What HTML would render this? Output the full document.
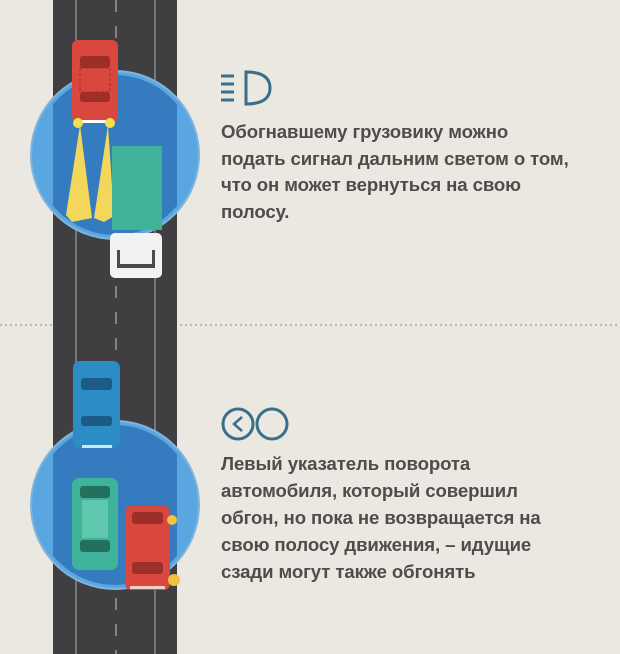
<!DOCTYPE html>
<html><head><meta charset="utf-8"><style>
body{margin:0;width:620px;height:654px;background:#ebe8e1;overflow:hidden;position:relative;font-family:"Liberation Sans",sans-serif}
.t{position:absolute;left:221px;color:#4d4d4d;font-size:18.6px;font-weight:bold;line-height:26.5px;white-space:nowrap;letter-spacing:-0.1px}
</style></head><body>
<svg width="620" height="654" style="position:absolute;left:0;top:0">
<line x1="0" y1="325" x2="620" y2="325" stroke="#9a9a9a" stroke-width="1.2" stroke-dasharray="2 3"/>
<rect x="53" y="0" width="124" height="654" fill="#3f3f41"/>
<line x1="76" y1="0" x2="76" y2="654" stroke="#8a8a8c" stroke-width="1.5"/>
<line x1="155" y1="0" x2="155" y2="654" stroke="#8a8a8c" stroke-width="1.5"/>
<line x1="116" y1="0" x2="116" y2="654" stroke="#9a9a9c" stroke-width="1.5" stroke-dasharray="12 14"/>
<clipPath id="c1"><circle cx="115" cy="155" r="80"/></clipPath>
<clipPath id="c2"><circle cx="115" cy="505" r="80"/></clipPath>
<circle cx="115" cy="155" r="84" fill="#5aa6e0" stroke="#7fb5dc" stroke-width="2"/>
<rect x="53" y="71" width="124" height="168" fill="#2f73b8" opacity="0.85" clip-path="url(#c1)"/>
<polygon points="80,125 66,215 72,222 92,218" fill="#f3d75a"/>
<polygon points="108,125 94,218 104,222 114,216" fill="#f3d75a"/>
<rect x="72" y="40" width="46" height="82" rx="6" fill="#d9473f"/>
<rect x="80" y="56" width="30" height="12" rx="3" fill="#9e2e28"/>
<rect x="80" y="92" width="30" height="10" rx="3" fill="#9e2e28"/>
<rect x="80" y="68" width="30" height="24" fill="#d9473f" stroke="#9e2e28" stroke-dasharray="3 2"/>
<rect x="80" y="120" width="30" height="3" fill="#fff"/>
<circle cx="78" cy="123" r="5" fill="#f4e04c"/><circle cx="110" cy="123" r="5" fill="#f4e04c"/>
<rect x="112" y="146" width="50" height="84" fill="#3fb39a"/>
<rect x="110" y="233" width="52" height="45" rx="5" fill="#f2f2f2"/>
<rect x="117" y="250" width="38" height="18" fill="#4a4a4a"/>
<rect x="120" y="248" width="32" height="16" fill="#f2f2f2"/>
<circle cx="115" cy="505" r="84" fill="#5aa6e0" stroke="#7fb5dc" stroke-width="2"/>
<rect x="53" y="421" width="124" height="168" fill="#2f73b8" opacity="0.85" clip-path="url(#c2)"/>
<rect x="73" y="361" width="47" height="87" rx="7" fill="#2c8dc4"/>
<rect x="81" y="378" width="31" height="12" rx="3" fill="#1b5b85"/>
<rect x="81" y="416" width="31" height="10" rx="3" fill="#1b5b85"/>
<rect x="82" y="445" width="30" height="3" fill="#cfe6f5"/>
<rect x="72" y="478" width="46" height="92" rx="7" fill="#3fb39a"/>
<rect x="80" y="486" width="30" height="12" rx="3" fill="#24705f"/>
<rect x="80" y="540" width="30" height="12" rx="3" fill="#24705f"/>
<rect x="82" y="500" width="26" height="38" fill="#5ec7ad"/>
<rect x="125" y="506" width="45" height="84" rx="6" fill="#d9473f"/>
<rect x="132" y="512" width="31" height="12" rx="3" fill="#9e2e28"/>
<rect x="132" y="562" width="31" height="12" rx="3" fill="#9e2e28"/>
<rect x="130" y="586" width="35" height="3" fill="#f4d0c8"/>
<circle cx="172" cy="520" r="5" fill="#f4c040"/><circle cx="174" cy="580" r="6" fill="#f4c040"/>
<g stroke="#3a6f8c" stroke-width="3" fill="none">
<line x1="221" y1="76" x2="234" y2="76"/><line x1="221" y1="84" x2="234" y2="84"/><line x1="221" y1="92" x2="234" y2="92"/><line x1="221" y1="100" x2="234" y2="100"/>
<path d="M246,72 Q270,72 270,88 Q270,104 246,104 Z"/>
<circle cx="238" cy="424" r="15"/><circle cx="272" cy="424" r="15"/>
<path d="M242,417 L234,424 L242,431" stroke-width="2.5"/>
</g>
</svg>
<div class="t" style="top:119px">Обогнавшему грузовику можно<br>подать сигнал дальним светом о том,<br>что он может вернуться на свою<br>полосу.</div>
<div class="t" style="top:450px;line-height:27px">Левый указатель поворота<br>автомобиля, который совершил<br>обгон, но пока не возвращается на<br>свою полосу движения, – идущие<br>сзади могут также обгонять</div>
</body></html>
